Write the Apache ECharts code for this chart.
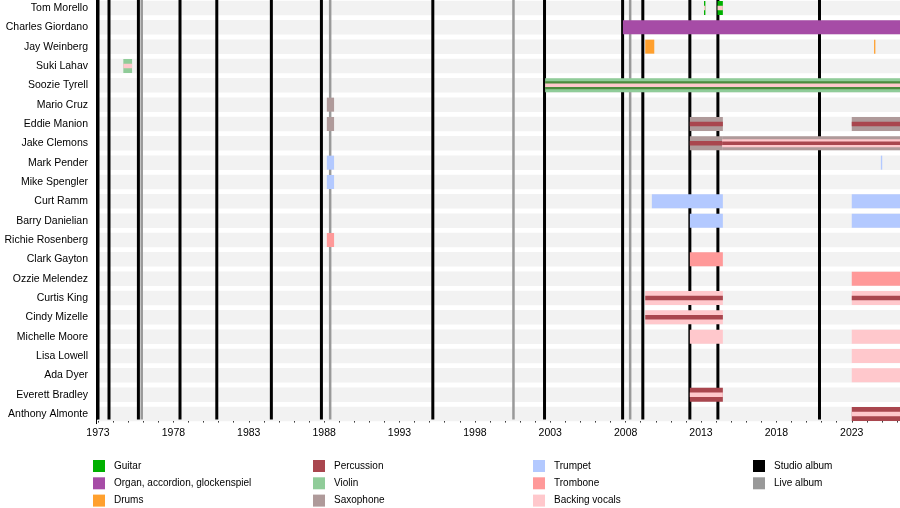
<!DOCTYPE html>
<html>
<head>
<meta charset="utf-8">
<script src="https://cdn.jsdelivr.net/npm/echarts@6/dist/echarts.min.js"></script>
<style>body{margin:0;background:#fff}</style>
</head>
<body>
<div id="chart" style="width:900px;height:508px"></div>
<script>
// band members, top to bottom
var members = ['Tom Morello', 'Charles Giordano', 'Jay Weinberg', 'Suki Lahav', 'Soozie Tyrell',
  'Mario Cruz', 'Eddie Manion', 'Jake Clemons', 'Mark Pender', 'Mike Spengler', 'Curt Ramm',
  'Barry Danielian', 'Richie Rosenberg', 'Clark Gayton', 'Ozzie Melendez', 'Curtis King',
  'Cindy Mizelle', 'Michelle Moore', 'Lisa Lowell', 'Ada Dyer', 'Everett Bradley', 'Anthony Almonte'];

var instruments = ['Guitar', 'Organ, accordion, glockenspiel', 'Drums', 'Percussion', 'Violin',
  'Saxophone', 'Trumpet', 'Trombone', 'Backing vocals'];
var instrumentColors = ['#00b000', '#a64ca6', '#ffa02e', '#a9464e', '#90cc99',
  '#af9a9a', '#b3c9ff', '#ff9999', '#ffc8cc'];

var studioAlbums = [1973.0, 1973.73, 1975.68, 1978.44, 1980.88, 1984.5, 1987.82, 1995.21,
  2002.62, 2007.8, 2009.14, 2012.26, 2014.12, 2020.86];
var liveAlbums = [1975.9, 1988.4, 2000.56, 2008.3];

var startYear = 1973;
var endYear = 2026.2;

// member, from, to, roles (first one is the main one)
var periods = [
  ['Tom Morello', 2013.2, 2013.29, ['Guitar', 'Backing vocals']],
  ['Tom Morello', 2014.1, 2014.45, ['Guitar', 'Backing vocals']],
  ['Charles Giordano', 2007.82, endYear, ['Organ, accordion, glockenspiel']],
  ['Jay Weinberg', 2009.3, 2009.9, ['Drums']],
  ['Jay Weinberg', 2024.48, 2024.55, ['Drums']],
  ['Suki Lahav', 1974.68, 1975.26, ['Violin', 'Backing vocals']],
  ['Soozie Tyrell', 2002.66, endYear, ['Violin', 'Guitar', 'Backing vocals']],
  ['Mario Cruz', 1988.18, 1988.66, ['Saxophone']],
  ['Eddie Manion', 1988.18, 1988.66, ['Saxophone']],
  ['Eddie Manion', 2012.26, 2014.45, ['Saxophone', 'Percussion']],
  ['Eddie Manion', 2023.0, endYear, ['Saxophone', 'Percussion']],
  ['Jake Clemons', 2012.26, 2014.4, ['Saxophone', 'Percussion']],
  ['Jake Clemons', 2014.4, endYear, ['Saxophone', 'Backing vocals', 'Percussion']],
  ['Mark Pender', 1988.18, 1988.66, ['Trumpet']],
  ['Mark Pender', 2024.93, 2025.02, ['Trumpet']],
  ['Mike Spengler', 1988.18, 1988.66, ['Trumpet']],
  ['Curt Ramm', 2009.74, 2014.45, ['Trumpet']],
  ['Curt Ramm', 2023.0, endYear, ['Trumpet']],
  ['Barry Danielian', 2012.26, 2014.45, ['Trumpet']],
  ['Barry Danielian', 2023.0, endYear, ['Trumpet']],
  ['Richie Rosenberg', 1988.18, 1988.66, ['Trombone']],
  ['Clark Gayton', 2012.26, 2014.45, ['Trombone']],
  ['Ozzie Melendez', 2023.0, endYear, ['Trombone']],
  ['Curtis King', 2009.3, 2014.45, ['Backing vocals', 'Percussion']],
  ['Curtis King', 2023.0, endYear, ['Backing vocals', 'Percussion']],
  ['Cindy Mizelle', 2009.3, 2014.45, ['Backing vocals', 'Percussion']],
  ['Michelle Moore', 2012.26, 2014.45, ['Backing vocals']],
  ['Michelle Moore', 2023.0, endYear, ['Backing vocals']],
  ['Lisa Lowell', 2023.0, endYear, ['Backing vocals']],
  ['Ada Dyer', 2023.0, endYear, ['Backing vocals']],
  ['Everett Bradley', 2012.26, 2014.45, ['Percussion', 'Backing vocals']],
  ['Anthony Almonte', 2023.0, endYear, ['Percussion', 'Backing vocals']]
];

var FONT = '"Liberation Sans", Arial, sans-serif';
var AXIS_SHIFT = -4.2;   // x axis sits a bit above the bottom of the last row band

function colorOf(name, layer) {
  // guitar as a thin inner stripe shows up darker in the original
  if (name == 'Guitar' && layer > 0) return '#4a8a3c';
  return instrumentColors[instruments.indexOf(name)];
}

function layerHeights(n) {
  if (n == 1) return [14];
  if (n == 2) return [14, 4.5];
  return [14, 8, 3.5];
}

function renderPeriod(params, api) {
  var p = periods[params.dataIndex];
  var row = api.value(1);
  var a = api.coord([api.value(0), row]);
  var b = api.coord([api.value(2), row]);
  var w = Math.max(b[0] - a[0], 1.3);
  var hs = layerHeights(p[3].length);
  var kids = [];
  for (var i = 0; i < p[3].length; i++) {
    kids.push({
      type: 'rect',
      shape: {x: a[0], y: a[1] - hs[i] / 2, width: w, height: hs[i]},
      style: {fill: colorOf(p[3][i], i)}
    });
  }
  return {type: 'group', children: kids};
}

function renderRowBg(params, api) {
  var c = api.coord([startYear, api.value(1)]);
  var cs = params.coordSys;
  return {
    type: 'rect',
    shape: {x: cs.x, y: c[1] - 7.25, width: cs.width, height: 14.5},
    style: {fill: '#f2f2f2'}
  };
}

function lineRenderer(width) {
  return function (params, api) {
    var c = api.coord([api.value(0), 0]);
    var cs = params.coordSys;
    var top = Math.max(cs.y, 0);
    return {
      type: 'rect',
      shape: {x: c[0] - width / 2, y: top, width: width, height: cs.y + cs.height + AXIS_SHIFT - top},
      style: {fill: api.visual('color')}
    };
  };
}

var series = [
  {
    type: 'custom', name: 'rows', silent: true, z: 1,
    renderItem: renderRowBg,
    encode: {x: 0, y: 1},
    data: members.map(function (m, i) { return [startYear, i]; })
  },
  {
    type: 'custom', name: 'Studio album', z: 2, silent: true,
    itemStyle: {color: '#000000'},
    renderItem: lineRenderer(3),
    encode: {x: 0, y: 1},
    data: studioAlbums.map(function (y) { return [y, 0]; })
  },
  {
    type: 'custom', name: 'Live album', z: 2, silent: true,
    itemStyle: {color: '#999999'},
    renderItem: lineRenderer(2.5),
    encode: {x: 0, y: 1},
    data: liveAlbums.map(function (y) { return [y, 0]; })
  },
  {
    type: 'custom', name: 'periods', z: 3, silent: true,
    renderItem: renderPeriod,
    encode: {x: [0, 2], y: 1},
    data: periods.map(function (p) { return [p[1], members.indexOf(p[0]), p[2]]; })
  }
];
// empty series, only so the legend has its entries
instruments.forEach(function (n, i) {
  series.push({type: 'custom', name: n, data: [], renderItem: function () { return null; },
    itemStyle: {color: instrumentColors[i]}});
});

function legendCol(names, left) {
  return {
    orient: 'vertical', left: left, top: 460, padding: 0,
    itemWidth: 12, itemHeight: 12, itemGap: 5.3,
    icon: 'rect', selectedMode: false,
    textStyle: {fontFamily: FONT, fontSize: 10, color: '#000', padding: [0, 0, 0, 4]},
    data: names.map(function (n) {
      var col = n == 'Studio album' ? '#000000' : n == 'Live album' ? '#999999' : instrumentColors[instruments.indexOf(n)];
      return {name: n, itemStyle: {color: col}};
    })
  };
}

var chart = echarts.init(document.getElementById('chart'), null, {renderer: 'canvas'});
chart.setOption({
  animation: false,
  grid: {left: 98, right: 0, top: -1.67, height: 425.33, containLabel: false, outerBoundsMode: 'none'},
  xAxis: {
    type: 'value', min: startYear, max: endYear, interval: 1, offset: AXIS_SHIFT,
    axisLine: {show: true, lineStyle: {color: '#000', width: 1}},
    axisTick: {show: true, length: 3, lineStyle: {color: '#000'}},
    splitLine: {show: false},
    axisLabel: {
      fontFamily: FONT, fontSize: 10.5, color: '#000', margin: 8,
      formatter: function (v) {
        var r = Math.round(v);
        if (Math.abs(v - r) > 1e-6) return '';
        return (r - startYear) % 5 == 0 ? String(r) : '';
      }
    }
  },
  yAxis: {
    type: 'category', data: members, inverse: true, offset: 2,
    axisLine: {show: true, lineStyle: {color: '#000', width: 1}},
    axisTick: {show: false},
    splitLine: {show: false},
    axisLabel: {fontFamily: FONT, fontSize: 10.5, color: '#000', margin: 8, interval: 0}
  },
  legend: [
    legendCol(instruments.slice(0, 3), 93),
    legendCol(instruments.slice(3, 6), 313),
    legendCol(instruments.slice(6, 9), 533),
    legendCol(['Studio album', 'Live album'], 753)
  ],
  series: series
});
</script>
</body>
</html>
